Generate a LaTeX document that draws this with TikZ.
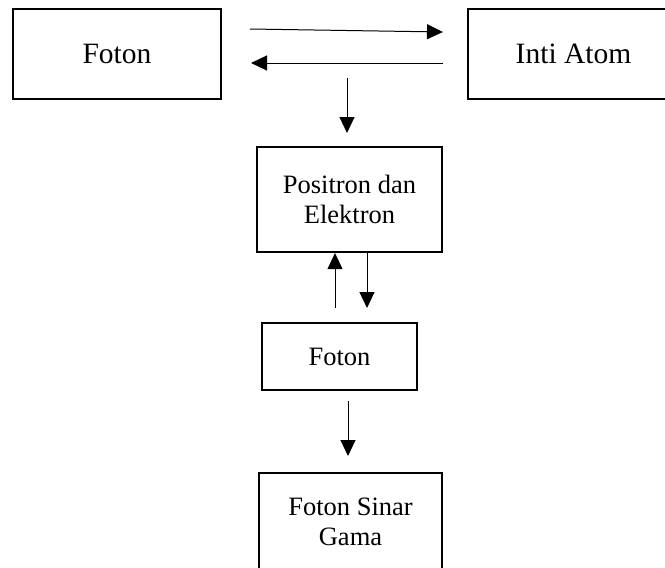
\documentclass[tikz,border=0pt]{standalone}
\usepackage{fontspec}
\setmainfont{Liberation Serif}
\usetikzlibrary{arrows.meta}
\begin{document}
\begin{tikzpicture}[x=1pt,y=-1pt,
  box/.style={draw,line width=2.2pt,rectangle,inner sep=0pt,align=center},
  bigtxt/.style={font=\fontsize{29.5}{33}\selectfont},
  smalltxt/.style={font=\fontsize{26.5}{29.5}\selectfont},
  arr/.style={line width=1pt,-{Triangle[length=16pt,width=15pt]}}]
\useasboundingbox (0,0) rectangle (665,568);
\node[box,bigtxt,minimum width=208pt,minimum height=90pt] (f1) at (117,54) {Foton};
\node[box,bigtxt,minimum width=211pt,minimum height=90pt] (ia) at (573.5,54) {Inti Atom};
\node[box,smalltxt,minimum width=185pt,minimum height=105pt] (pe) at (349.5,199.5) {Positron dan\\Elektron};
\node[box,smalltxt,minimum width=155pt,minimum height=67pt] (f2) at (339.5,356.5) {Foton};
\node[box,smalltxt,minimum width=183pt,minimum height=98pt] (sg) at (350.5,522) {Foton Sinar\\Gama};
\coordinate (a1s) at (250,29);
\coordinate (a1e) at (443,32);
\coordinate (a2s) at (443,63);
\coordinate (a2e) at (251,63);
\coordinate (a3s) at (347,78);
\coordinate (a4s) at (335,308);
\coordinate (a5e) at (367,308);
\coordinate (a6s) at (348,401);
\draw[arr] (a1s) -- (a1e);
\draw[arr] (a2s) -- (a2e);
\draw[arr] (a3s) -- (a3s |- 0,133);
\draw[arr] (a4s) -- (a4s |- pe.south);
\draw[arr] (a5e |- pe.south) -- (a5e);
\draw[arr] (a6s) -- (a6s |- 0,456);
\end{tikzpicture}
\end{document}
